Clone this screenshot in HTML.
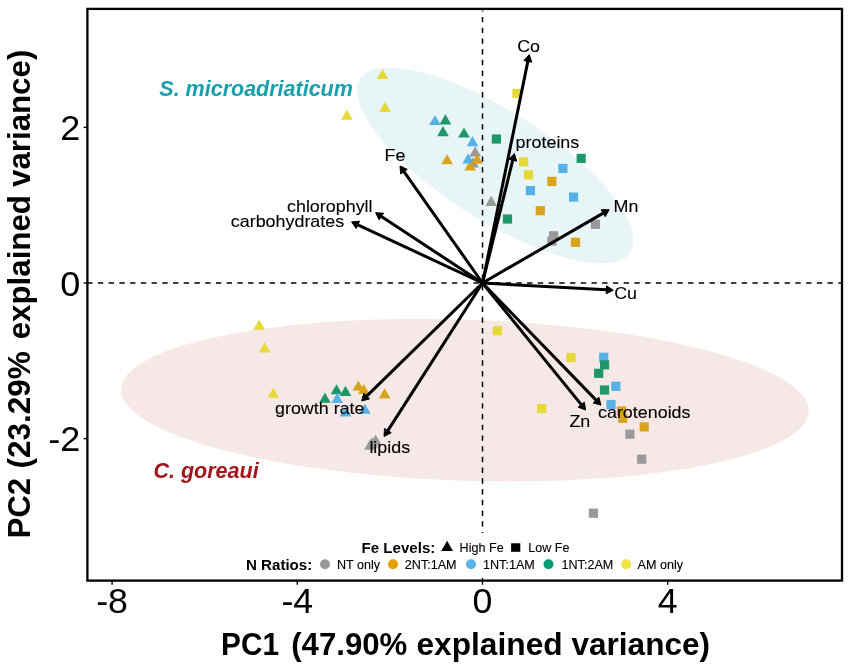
<!DOCTYPE html>
<html><head><meta charset="utf-8"><style>
html,body{margin:0;padding:0;background:#fff;}
svg{display:block;will-change:transform;}
text{font-family:"Liberation Sans",sans-serif;}
</style></head><body>
<svg width="851" height="670" viewBox="0 0 851 670">
<rect x="0" y="0" width="851" height="670" fill="#fff"/>
<g transform="translate(495.2,165.4) rotate(32.6)"><ellipse cx="0" cy="0" rx="160.5" ry="54.3" fill="#E8F5F7"/></g>
<g transform="translate(464.9,400.2) rotate(1.85)"><ellipse cx="0" cy="0" rx="344" ry="80.5" fill="#F5E8E7"/></g>
<line x1="87.17" y1="283.0" x2="841" y2="283.0" stroke="#000" stroke-width="1.5" stroke-dasharray="5.365 5.365"/>
<line x1="482.5" y1="10.4" x2="482.5" y2="579.5" stroke="#000" stroke-width="1.5" stroke-dasharray="5.365 5.365" stroke-dashoffset="4.2"/>
<polygon points="382.50,68.90 388.35,79.03 376.65,79.03" fill="#E6D838" fill-opacity="1.0"/>
<polygon points="385.00,101.75 390.85,111.88 379.15,111.88" fill="#E6D838" fill-opacity="1.0"/>
<polygon points="346.90,109.55 352.75,119.67 341.05,119.67" fill="#E6D838" fill-opacity="1.0"/>
<polygon points="435.00,114.95 440.85,125.08 429.15,125.08" fill="#56B2E6" fill-opacity="1.0"/>
<polygon points="445.40,114.35 451.25,124.47 439.55,124.47" fill="#20976B" fill-opacity="1.0"/>
<polygon points="443.00,126.05 448.85,136.18 437.15,136.18" fill="#20976B" fill-opacity="1.0"/>
<polygon points="464.00,127.45 469.85,137.57 458.15,137.57" fill="#20976B" fill-opacity="1.0"/>
<polygon points="472.50,136.05 478.35,146.18 466.65,146.18" fill="#56B2E6" fill-opacity="1.0"/>
<polygon points="475.20,146.35 481.05,156.47 469.35,156.47" fill="#999999" fill-opacity="1.0"/>
<polygon points="447.10,154.15 452.95,164.28 441.25,164.28" fill="#D9A31D" fill-opacity="1.0"/>
<polygon points="473.00,157.25 478.85,167.38 467.15,167.38" fill="#999999" fill-opacity="1.0"/>
<polygon points="470.10,160.45 475.95,170.57 464.25,170.57" fill="#D9A31D" fill-opacity="1.0"/>
<polygon points="468.20,153.25 474.05,163.38 462.35,163.38" fill="#56B2E6" fill-opacity="1.0"/>
<polygon points="477.10,153.65 482.95,163.78 471.25,163.78" fill="#D9A31D" fill-opacity="1.0"/>
<polygon points="491.20,195.75 497.05,205.88 485.35,205.88" fill="#999999" fill-opacity="1.0"/>
<polygon points="259.20,319.55 265.05,329.68 253.35,329.68" fill="#E6D838" fill-opacity="1.0"/>
<polygon points="264.70,342.35 270.55,352.48 258.85,352.48" fill="#E6D838" fill-opacity="1.0"/>
<polygon points="273.40,387.65 279.25,397.77 267.55,397.77" fill="#E6D838" fill-opacity="1.0"/>
<polygon points="324.90,392.55 330.75,402.68 319.05,402.68" fill="#20976B" fill-opacity="1.0"/>
<polygon points="336.50,384.15 342.35,394.27 330.65,394.27" fill="#20976B" fill-opacity="1.0"/>
<polygon points="345.50,385.85 351.35,395.98 339.65,395.98" fill="#20976B" fill-opacity="1.0"/>
<polygon points="337.20,392.85 343.05,402.98 331.35,402.98" fill="#56B2E6" fill-opacity="1.0"/>
<polygon points="358.30,380.45 364.15,390.57 352.45,390.57" fill="#D9A31D" fill-opacity="1.0"/>
<polygon points="363.70,383.95 369.55,394.07 357.85,394.07" fill="#D9A31D" fill-opacity="1.0"/>
<polygon points="384.60,388.35 390.45,398.48 378.75,398.48" fill="#D9A31D" fill-opacity="1.0"/>
<polygon points="364.90,403.65 370.75,413.77 359.05,413.77" fill="#56B2E6" fill-opacity="1.0"/>
<polygon points="345.50,406.35 351.35,416.48 339.65,416.48" fill="#56B2E6" fill-opacity="1.0"/>
<polygon points="372.00,437.25 377.85,447.38 366.15,447.38" fill="#999999" fill-opacity="1.0"/>
<polygon points="370.00,439.55 375.85,449.68 364.15,449.68" fill="#999999" fill-opacity="1.0"/>
<polygon points="375.60,434.55 381.45,444.68 369.75,444.68" fill="#999999" fill-opacity="1.0"/>
<rect x="512.40" y="88.80" width="9.2" height="9.2" fill="#E6D838" fill-opacity="1.0"/>
<rect x="491.80" y="134.40" width="9.2" height="9.2" fill="#20976B" fill-opacity="1.0"/>
<rect x="519.00" y="157.20" width="9.2" height="9.2" fill="#E6D838" fill-opacity="1.0"/>
<rect x="576.60" y="153.80" width="9.2" height="9.2" fill="#20976B" fill-opacity="1.0"/>
<rect x="558.30" y="163.80" width="9.2" height="9.2" fill="#56B2E6" fill-opacity="1.0"/>
<rect x="523.90" y="170.30" width="9.2" height="9.2" fill="#E6D838" fill-opacity="1.0"/>
<rect x="547.30" y="176.80" width="9.2" height="9.2" fill="#D9A31D" fill-opacity="1.0"/>
<rect x="525.80" y="186.00" width="9.2" height="9.2" fill="#56B2E6" fill-opacity="1.0"/>
<rect x="569.00" y="192.50" width="9.2" height="9.2" fill="#56B2E6" fill-opacity="1.0"/>
<rect x="535.70" y="206.10" width="9.2" height="9.2" fill="#D9A31D" fill-opacity="1.0"/>
<rect x="502.90" y="214.40" width="9.2" height="9.2" fill="#20976B" fill-opacity="1.0"/>
<rect x="590.90" y="219.70" width="9.2" height="9.2" fill="#999999" fill-opacity="1.0"/>
<rect x="549.00" y="231.20" width="9.2" height="9.2" fill="#999999" fill-opacity="1.0"/>
<rect x="547.30" y="236.50" width="9.2" height="9.2" fill="#999999" fill-opacity="1.0"/>
<rect x="570.90" y="237.70" width="9.2" height="9.2" fill="#D9A31D" fill-opacity="1.0"/>
<rect x="492.80" y="326.10" width="9.2" height="9.2" fill="#E6D838" fill-opacity="1.0"/>
<rect x="566.40" y="352.90" width="9.2" height="9.2" fill="#E6D838" fill-opacity="1.0"/>
<rect x="537.10" y="403.90" width="9.2" height="9.2" fill="#E6D838" fill-opacity="1.0"/>
<rect x="599.10" y="352.70" width="9.2" height="9.2" fill="#56B2E6" fill-opacity="1.0"/>
<rect x="600.00" y="360.20" width="9.2" height="9.2" fill="#20976B" fill-opacity="1.0"/>
<rect x="594.10" y="368.70" width="9.2" height="9.2" fill="#20976B" fill-opacity="1.0"/>
<rect x="611.30" y="381.70" width="9.2" height="9.2" fill="#56B2E6" fill-opacity="1.0"/>
<rect x="599.90" y="385.40" width="9.2" height="9.2" fill="#20976B" fill-opacity="1.0"/>
<rect x="606.40" y="399.90" width="9.2" height="9.2" fill="#56B2E6" fill-opacity="1.0"/>
<rect x="616.90" y="406.40" width="9.2" height="9.2" fill="#D9A31D" fill-opacity="1.0"/>
<rect x="618.10" y="413.70" width="9.2" height="9.2" fill="#D9A31D" fill-opacity="1.0"/>
<rect x="639.60" y="422.30" width="9.2" height="9.2" fill="#D9A31D" fill-opacity="1.0"/>
<rect x="625.30" y="429.60" width="9.2" height="9.2" fill="#999999" fill-opacity="1.0"/>
<rect x="637.10" y="454.60" width="9.2" height="9.2" fill="#999999" fill-opacity="1.0"/>
<rect x="588.80" y="508.60" width="9.2" height="9.2" fill="#999999" fill-opacity="1.0"/>
<line x1="482.5" y1="283.0" x2="527.86" y2="61.39" stroke="#000" stroke-width="3.0" stroke-linecap="butt"/><polygon points="529.25,54.60 523.94,60.59 531.78,62.19" fill="#000" stroke="#000" stroke-width="1.0" stroke-linejoin="round"/>
<line x1="482.5" y1="283.0" x2="512.74" y2="160.23" stroke="#000" stroke-width="3.0" stroke-linecap="butt"/><polygon points="514.40,153.50 508.86,159.27 516.63,161.18" fill="#000" stroke="#000" stroke-width="1.0" stroke-linejoin="round"/>
<line x1="482.5" y1="283.0" x2="403.99" y2="171.66" stroke="#000" stroke-width="3.0" stroke-linecap="butt"/><polygon points="400.00,166.00 400.72,173.97 407.26,169.36" fill="#000" stroke="#000" stroke-width="1.0" stroke-linejoin="round"/>
<line x1="482.5" y1="283.0" x2="381.39" y2="216.51" stroke="#000" stroke-width="3.0" stroke-linecap="butt"/><polygon points="375.60,212.70 379.19,219.85 383.59,213.16" fill="#000" stroke="#000" stroke-width="1.0" stroke-linejoin="round"/>
<line x1="482.5" y1="283.0" x2="357.88" y2="224.83" stroke="#000" stroke-width="3.0" stroke-linecap="butt"/><polygon points="351.60,221.90 356.19,228.45 359.57,221.21" fill="#000" stroke="#000" stroke-width="1.0" stroke-linejoin="round"/>
<line x1="482.5" y1="283.0" x2="603.20" y2="213.17" stroke="#000" stroke-width="3.0" stroke-linecap="butt"/><polygon points="609.20,209.70 601.20,209.71 605.21,216.63" fill="#000" stroke="#000" stroke-width="1.0" stroke-linejoin="round"/>
<line x1="482.5" y1="283.0" x2="606.38" y2="289.82" stroke="#000" stroke-width="3.0" stroke-linecap="butt"/><polygon points="613.30,290.20 606.60,285.83 606.16,293.81" fill="#000" stroke="#000" stroke-width="1.0" stroke-linejoin="round"/>
<line x1="482.5" y1="283.0" x2="366.66" y2="396.06" stroke="#000" stroke-width="3.0" stroke-linecap="butt"/><polygon points="361.70,400.90 369.45,398.92 363.86,393.20" fill="#000" stroke="#000" stroke-width="1.0" stroke-linejoin="round"/>
<line x1="482.5" y1="283.0" x2="387.84" y2="430.57" stroke="#000" stroke-width="3.0" stroke-linecap="butt"/><polygon points="384.10,436.40 391.21,432.73 384.47,428.41" fill="#000" stroke="#000" stroke-width="1.0" stroke-linejoin="round"/>
<line x1="482.5" y1="283.0" x2="581.23" y2="404.62" stroke="#000" stroke-width="3.0" stroke-linecap="butt"/><polygon points="585.60,410.00 584.34,402.10 578.13,407.14" fill="#000" stroke="#000" stroke-width="1.0" stroke-linejoin="round"/>
<line x1="482.5" y1="283.0" x2="596.08" y2="400.13" stroke="#000" stroke-width="3.0" stroke-linecap="butt"/><polygon points="600.90,405.10 598.95,397.34 593.21,402.91" fill="#000" stroke="#000" stroke-width="1.0" stroke-linejoin="round"/>
<text transform="translate(517.2,52.30) scale(1,0.945)" font-size="17.9" stroke="#000" stroke-width="0.12">Co</text>
<text transform="translate(515.6,147.70) scale(1,0.945)" font-size="17.9" stroke="#000" stroke-width="0.12">proteins</text>
<text transform="translate(384.5,161.20) scale(1,0.945)" font-size="17.9" stroke="#000" stroke-width="0.12">Fe</text>
<text transform="translate(287,211.80) scale(1,0.945)" font-size="17.9" stroke="#000" stroke-width="0.12">chlorophyll</text>
<text transform="translate(230.8,227.10) scale(1,0.945)" font-size="17.9" stroke="#000" stroke-width="0.12">carbohydrates</text>
<text transform="translate(613.5,211.60) scale(1,0.945)" font-size="17.9" stroke="#000" stroke-width="0.12">Mn</text>
<text transform="translate(614.2,298.70) scale(1,0.945)" font-size="17.9" stroke="#000" stroke-width="0.12">Cu</text>
<text transform="translate(275.0,414.30) scale(1,0.945)" font-size="17.9" stroke="#000" stroke-width="0.12">growth rate</text>
<text transform="translate(369.4,452.80) scale(1,0.945)" font-size="17.9" stroke="#000" stroke-width="0.12">lipids</text>
<text transform="translate(569.4,427.10) scale(1,0.945)" font-size="17.9" stroke="#000" stroke-width="0.12">Zn</text>
<text transform="translate(598.0,417.90) scale(1,0.945)" font-size="17.9" stroke="#000" stroke-width="0.12">carotenoids</text>
<text x="159.3" y="96.1" font-size="21.5" font-weight="bold" font-style="italic" fill="#17A0AC">S. microadriaticum</text>
<text x="153.5" y="477.9" font-size="21.5" font-weight="bold" font-style="italic" fill="#A2161B">C. goreaui</text>
<rect x="235" y="533" width="460" height="45" fill="#fff"/>
<text x="361.5" y="552.6" font-size="15.1" font-weight="bold">Fe Levels:</text>
<polygon points="447.10,540.85 452.95,550.98 441.25,550.98" fill="#000" fill-opacity="1.0"/>
<text x="459.6" y="552.2" font-size="12.6" stroke="#000" stroke-width="0.12">High Fe</text>
<rect x="511.1" y="543.3" width="9.2" height="8.5" fill="#000"/>
<text x="528.2" y="552.2" font-size="12.6" stroke="#000" stroke-width="0.12">Low Fe</text>
<text x="246" y="569.6" font-size="15.1" font-weight="bold">N Ratios:</text>
<circle cx="325" cy="564.3" r="5" fill="#999999"/>
<text x="337" y="569" font-size="12.6" stroke="#000" stroke-width="0.12">NT only</text>
<circle cx="393" cy="564.3" r="5" fill="#E69F00"/>
<text x="404.8" y="569" font-size="12.6" stroke="#000" stroke-width="0.12">2NT:1AM</text>
<circle cx="471" cy="564.3" r="5" fill="#56B4E9"/>
<text x="483" y="569" font-size="12.6" stroke="#000" stroke-width="0.12">1NT:1AM</text>
<circle cx="548.5" cy="564.3" r="5" fill="#009E73"/>
<text x="561.5" y="569" font-size="12.6" stroke="#000" stroke-width="0.12">1NT:2AM</text>
<circle cx="626.2" cy="564.3" r="5" fill="#F0E442"/>
<text x="637.5" y="569" font-size="12.6" stroke="#000" stroke-width="0.12">AM only</text>
<rect x="87.4" y="8.9" width="754.6" height="571.7" fill="none" stroke="#000" stroke-width="2.3"/>
<line x1="112.10" y1="580.7" x2="112.10" y2="584.7" stroke="#000" stroke-width="1.4"/>
<text transform="translate(112.10,613) scale(1.02,1.015)" font-size="35" text-anchor="middle">-8</text>
<line x1="297.30" y1="580.7" x2="297.30" y2="584.7" stroke="#000" stroke-width="1.4"/>
<text transform="translate(297.30,613) scale(1.02,1.015)" font-size="35" text-anchor="middle">-4</text>
<line x1="482.50" y1="580.7" x2="482.50" y2="584.7" stroke="#000" stroke-width="1.4"/>
<text transform="translate(482.50,613) scale(1.02,1.015)" font-size="35" text-anchor="middle">0</text>
<line x1="667.70" y1="580.7" x2="667.70" y2="584.7" stroke="#000" stroke-width="1.4"/>
<text transform="translate(667.70,613) scale(1.02,1.015)" font-size="35" text-anchor="middle">4</text>
<line x1="83.6" y1="127.40" x2="87.5" y2="127.40" stroke="#000" stroke-width="1.4"/>
<text transform="translate(80.2,140.00) scale(1.03,1.015)" font-size="35" text-anchor="end">2</text>
<line x1="83.6" y1="283.00" x2="87.5" y2="283.00" stroke="#000" stroke-width="1.4"/>
<text transform="translate(80.2,295.60) scale(1.03,1.015)" font-size="35" text-anchor="end">0</text>
<line x1="83.6" y1="438.60" x2="87.5" y2="438.60" stroke="#000" stroke-width="1.4"/>
<text transform="translate(80.2,451.20) scale(1.03,1.015)" font-size="35" text-anchor="end">-2</text>
<text transform="translate(221.1,655.3) scale(0.96,1)" font-size="31" font-weight="bold">PC1</text>
<text transform="translate(291.2,655.3) scale(1.006,1)" font-size="31" font-weight="bold">(47.90%</text>
<text transform="translate(416.4,655.3) scale(1.023,1)" font-size="31" font-weight="bold">explained</text>
<text transform="translate(571.5,655.3) scale(1.018,1)" font-size="31" font-weight="bold">variance)</text>
<text transform="translate(30.2,538.3) rotate(-90) scale(1.0,1)" font-size="31" font-weight="bold">PC2</text>
<text transform="translate(30.2,468.4) rotate(-90) scale(1.015,1)" font-size="31" font-weight="bold">(23.29%</text>
<text transform="translate(30.2,339.3) rotate(-90) scale(1.009,1)" font-size="31" font-weight="bold">explained</text>
<text transform="translate(30.2,187.0) rotate(-90) scale(1.009,1)" font-size="31" font-weight="bold">variance)</text>
</svg></body></html>
